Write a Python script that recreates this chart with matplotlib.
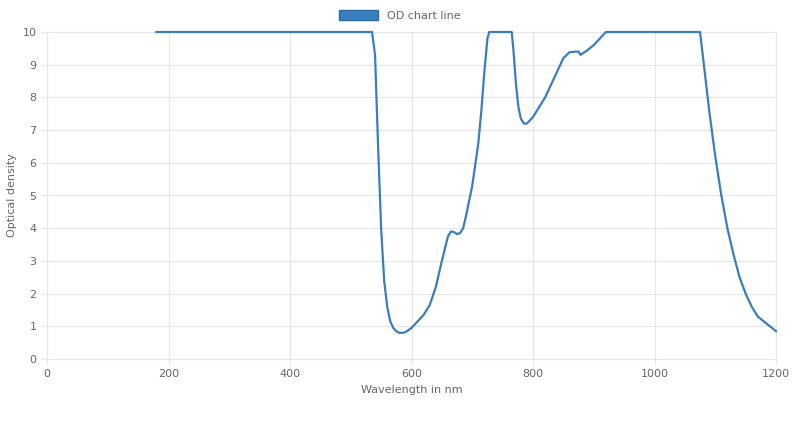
import matplotlib
matplotlib.use("Agg")
import matplotlib.pyplot as plt
from matplotlib.patches import Patch

wavelength = [180, 300, 400, 500, 530, 535, 540, 545, 550, 555, 560, 565, 570, 575, 580, 585, 590, 600, 610, 620, 630, 640, 650, 660, 665, 670, 675, 680, 685, 690, 700, 710, 715, 720, 725, 728,
              765, 768, 772, 776, 780, 785, 790, 795, 800, 810, 820, 830, 840, 850, 860, 870, 875, 878, 880, 890, 900, 910, 920,
              1075, 1080, 1085, 1090, 1100, 1110, 1120, 1130, 1140, 1150, 1160, 1170, 1180, 1190, 1200]
od = [10, 10, 10, 10, 10, 10, 9.3, 6.5, 4.0, 2.4, 1.6, 1.15, 0.95, 0.85, 0.8, 0.8, 0.82, 0.95, 1.15, 1.35, 1.65, 2.2, 3.0, 3.75, 3.9, 3.88, 3.82, 3.85, 4.0, 4.4, 5.3, 6.6, 7.6, 8.8, 9.8, 10,
      10, 9.4, 8.4, 7.7, 7.35, 7.2, 7.2, 7.3, 7.4, 7.7, 8.0, 8.4, 8.8, 9.2, 9.38, 9.4, 9.4, 9.3, 9.32, 9.45, 9.6, 9.8, 10,
      10, 9.2, 8.4, 7.6, 6.2, 5.0, 4.0, 3.2, 2.5, 2.0, 1.6, 1.3, 1.15, 1.0, 0.85]

fig = plt.figure(figsize=(8, 4.23), dpi=100)
ax = fig.add_axes([47/800, 1-359/423, 729/800, 327/423])
ax.plot(wavelength, od, color="#3a7ebf", lw=1.6, clip_on=False, zorder=5)
ax.set_xlim(0, 1200)
ax.set_ylim(0, 10)
ax.set_xticks(range(0, 1201, 200))
ax.set_yticks(range(0, 11))
ax.grid(True, color="#e6e6e6", lw=0.8)
for s in ax.spines.values():
    s.set_color("#e6e6e6")
ax.tick_params(colors="#666666", labelsize=8, length=4)
ax.tick_params(axis="both", color="#e6e6e6")
ax.set_xlabel("Wavelength in nm", fontsize=8, color="#666666")
ax.set_ylabel("Optical density", fontsize=8, color="#666666")
fig.legend(handles=[Patch(facecolor="#3a7ebf", edgecolor="#2a6aa8", label="OD chart line")],
           loc="upper center", bbox_to_anchor=(0.5, 1.0), frameon=False, fontsize=8,
           labelcolor="#666666", handlelength=3.5, handleheight=1.0)
fig.savefig("out.png", dpi=100)
